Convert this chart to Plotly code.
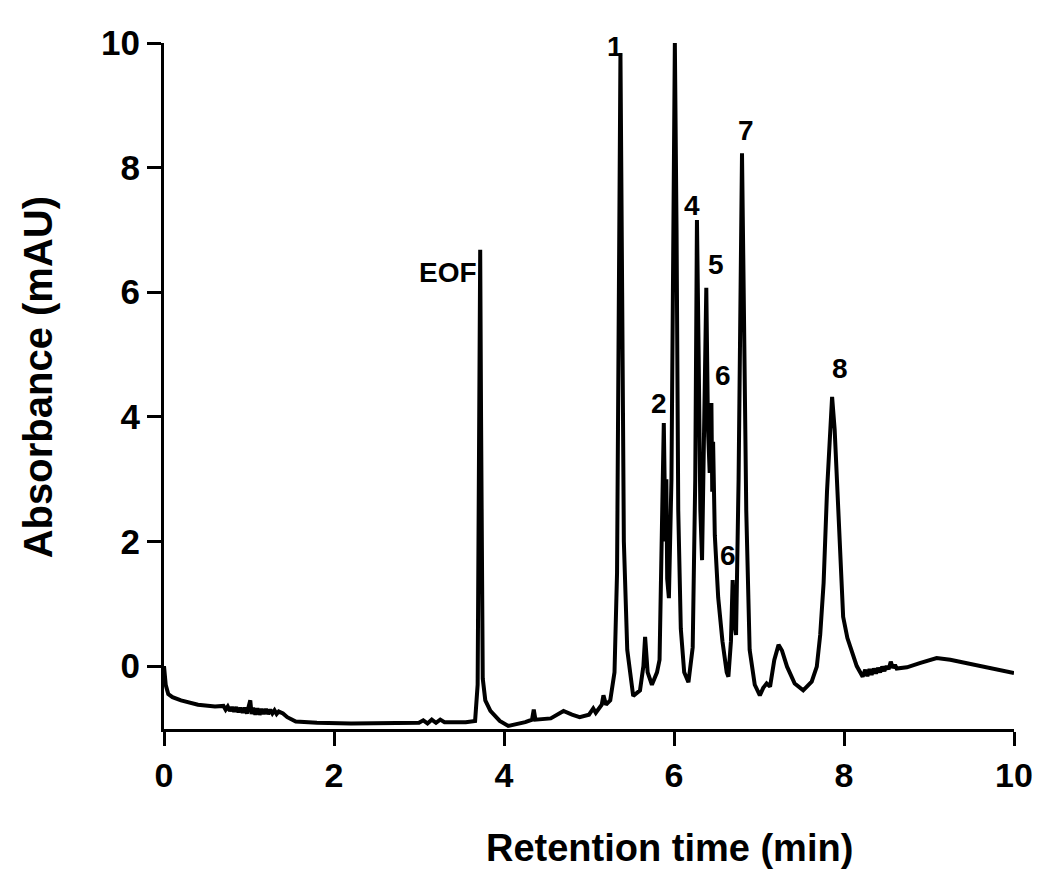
#%%#############################
# Imports
################################

import plotly.graph_objects as go

#%%#############################
# Data
################################

# retention time (min)
time_min = [
    0.00, 0.02, 0.05, 0.10, 0.20, 0.40, 0.60,
    0.700, 0.725, 0.750, 0.775, 0.800, 0.825, 0.850, 0.875, 0.900, 0.925,
    0.950, 0.975, 1.000, 1.015, 1.030, 1.050, 1.075, 1.100, 1.125, 1.150,
    1.175, 1.200, 1.225, 1.250, 1.275, 1.300, 1.325, 1.350, 1.400, 1.450,
    1.55, 1.80, 2.20, 2.60, 3.00, 3.05, 3.10, 3.15, 3.20, 3.25, 3.30,
    3.55, 3.66, 3.69, 3.71, 3.72, 3.73, 3.75, 3.78, 3.84, 3.95, 4.05,
    4.25, 4.33, 4.35, 4.37, 4.55, 4.70, 4.80, 4.89, 5.00, 5.05, 5.08,
    5.15, 5.17, 5.20, 5.25, 5.30, 5.33, 5.35, 5.37, 5.39, 5.41, 5.45,
    5.52, 5.60, 5.64, 5.66, 5.69, 5.74, 5.80, 5.83, 5.85, 5.88, 5.90,
    5.91, 5.92, 5.94, 5.97, 5.99, 6.01, 6.03, 6.05, 6.08, 6.12, 6.17,
    6.22, 6.25, 6.27, 6.29, 6.31, 6.33, 6.36, 6.38, 6.40, 6.42, 6.44,
    6.45, 6.46, 6.48, 6.52, 6.57, 6.62, 6.64, 6.67, 6.69, 6.71, 6.73,
    6.76, 6.78, 6.80, 6.82, 6.85, 6.89, 6.95, 7.01, 7.05, 7.09, 7.13,
    7.18, 7.23, 7.27, 7.33, 7.42, 7.52, 7.62, 7.68, 7.72, 7.76, 7.80,
    7.84, 7.86, 7.89, 7.92, 7.95, 7.99, 8.04, 8.09, 8.15,
    8.220, 8.250, 8.275, 8.300, 8.325, 8.350, 8.375, 8.400, 8.425, 8.450,
    8.475, 8.500, 8.525, 8.550, 8.575, 8.600, 8.620,
    8.74, 8.90, 9.09, 9.25, 9.44, 9.70, 10.00,
]

# absorbance (mAU)
absorbance = [
    0.00, -0.30, -0.45, -0.50, -0.55, -0.62, -0.65,
    -0.64, -0.70, -0.65, -0.72, -0.66, -0.73, -0.66, -0.74, -0.67, -0.75,
    -0.67, -0.76, -0.66, -0.55, -0.77, -0.67, -0.78, -0.68, -0.78, -0.69,
    -0.77, -0.69, -0.77, -0.70, -0.76, -0.71, -0.77, -0.73, -0.76, -0.82,
    -0.89, -0.91, -0.92, -0.92, -0.91, -0.87, -0.92, -0.86, -0.91, -0.86, -0.90,
    -0.90, -0.88, -0.30, 4.00, 6.68, 4.00, -0.20, -0.55, -0.72, -0.88, -0.96,
    -0.90, -0.86, -0.70, -0.86, -0.84, -0.72, -0.78, -0.82, -0.78, -0.68, -0.75,
    -0.62, -0.47, -0.62, -0.55, -0.10, 1.50, 6.00, 9.84, 6.00, 2.00, 0.26,
    -0.48, -0.39, 0.00, 0.47, -0.10, -0.30, -0.10, 0.10, 1.50, 3.90, 2.00,
    3.00, 1.40, 1.09, 3.00, 7.50, 10.00, 7.00, 2.50, 0.60, -0.10, -0.26,
    0.30, 3.00, 7.16, 5.00, 2.50, 1.70, 4.00, 6.07, 3.80, 3.10, 4.22,
    2.80, 3.60, 2.10, 1.10, 0.40, -0.10, -0.17, 0.40, 1.38, 0.70, 0.50,
    3.00, 6.50, 8.23, 6.00, 2.50, 0.26, -0.30, -0.47, -0.35, -0.28, -0.33,
    0.10, 0.34, 0.25, -0.01, -0.28, -0.39, -0.25, -0.01, 0.50, 1.33, 2.80,
    4.00, 4.32, 3.80, 2.94, 1.80, 0.79, 0.45, 0.26, 0.00,
    -0.17, -0.06, -0.16, -0.05, -0.14, -0.04, -0.12, -0.03, -0.10, -0.01,
    -0.08, 0.00, -0.05, 0.07, -0.03, 0.02, -0.04,
    -0.02, 0.05, 0.13, 0.10, 0.05, -0.02, -0.11,
]

# peak labels and where they sit
peak_labels = ["EOF", "1", "2", "3", "4", "5", "6", "6", "7", "8"]
label_x = [3.34, 5.31, 5.82, 6.02, 6.21, 6.49, 6.58, 6.64, 6.85, 7.95]
label_y = [6.32, 9.95, 4.22, 10.43, 7.39, 6.45, 4.67, 1.78, 8.59, 4.78]

x_ticks = [0, 2, 4, 6, 8, 10]
y_ticks = [0, 2, 4, 6, 8, 10]

#%%#############################
# Plotting
################################

fig = go.Figure()
fig.add_trace(go.Scatter(x=time_min, y=absorbance, mode="lines",
                         line=dict(color="black", width=4),
                         showlegend=False, hoverinfo="skip"))

for lab, lx, ly in zip(peak_labels, label_x, label_y):
    fig.add_annotation(x=lx, y=ly, text=lab, showarrow=False,
                       font=dict(family="Liberation Sans", size=28,
                                 color="black", weight="bold"))

# axis titles as annotations so they can sit where the original has them
fig.add_annotation(xref="paper", yref="paper", x=0.595, y=-0.173,
                   text="Retention time (min)", showarrow=False,
                   xanchor="center", yanchor="middle",
                   font=dict(family="Liberation Sans", size=38,
                             color="black", weight="bold"))
fig.add_annotation(xref="paper", yref="paper", x=-0.148, y=0.513,
                   text="Absorbance (mAU)", showarrow=False, textangle=-90,
                   xanchor="center", yanchor="middle",
                   font=dict(family="Liberation Sans", size=40,
                             color="black", weight="bold"))

fig.update_xaxes(range=[0, 10], tickvals=x_ticks, showline=True,
                 linecolor="black", linewidth=3, ticks="outside", ticklen=14,
                 tickwidth=3, tickcolor="black", showgrid=False, zeroline=False,
                 tickfont=dict(family="Liberation Sans", size=34,
                               color="black", weight="bold"))
fig.update_yaxes(range=[-1.01, 10.0], tickvals=y_ticks, showline=True,
                 linecolor="black", linewidth=3, ticks="outside", ticklen=14,
                 tickwidth=3, tickcolor="black", showgrid=False, zeroline=False,
                 tickfont=dict(family="Liberation Sans", size=35,
                               color="black", weight="bold"))

# page body adds 8px, so margins are trimmed to land the axes where the original has them
fig.update_layout(width=1050, height=878, plot_bgcolor="white",
                  paper_bgcolor="white",
                  margin=dict(l=156, r=44, t=35, b=157))

fig.write_html("out.html")
